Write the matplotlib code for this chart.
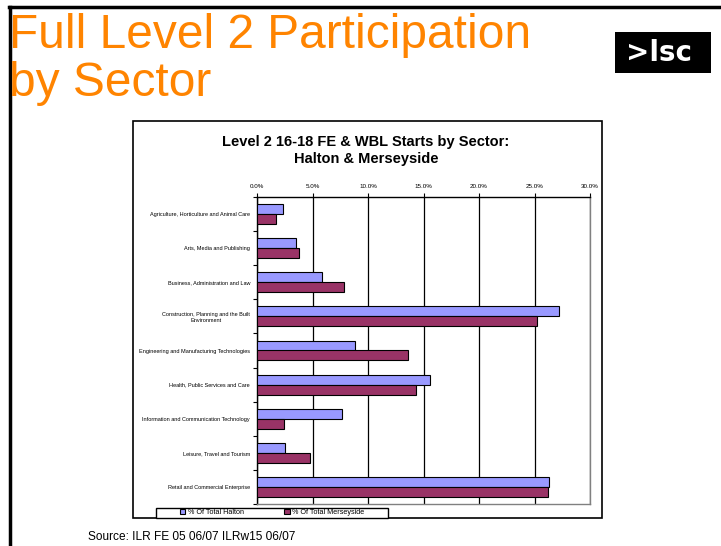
import matplotlib
matplotlib.use("Agg")
import matplotlib.pyplot as plt
from matplotlib.patches import Rectangle
from matplotlib.lines import Line2D
import numpy as np

plt.rcParams['font.family'] = ['Liberation Sans', 'DejaVu Sans']

# data (percent of starts)
sectors = [
    'Agriculture, Horticulture and Animal Care',
    'Arts, Media and Publishing',
    'Business, Administration and Law',
    'Construction, Planning and the Built\nEnvironment',
    'Engineering and Manufacturing Technologies',
    'Health, Public Services and Care',
    'Information and Communication Technology',
    'Leisure, Travel and Tourism',
    'Retail and Commercial Enterprise',
]
halton = [2.35, 3.5, 5.9, 27.2, 8.8, 15.6, 7.7, 2.55, 26.3]
merseyside = [1.75, 3.8, 7.85, 25.2, 13.6, 14.3, 2.4, 4.8, 26.2]
x_ticks = [0, 5, 10, 15, 20, 25, 30]

W, H = 721, 546
fig = plt.figure(figsize=(W / 100, H / 100), dpi=100)


def fx(px):
    return px / W


def fy(py):
    return 1 - py / H


# slide frame (top and left rules)
fig.add_artist(Line2D([fx(9), 1], [fy(7), fy(7)], color='black', lw=2.5))
fig.add_artist(Line2D([fx(10), fx(10)], [fy(7), 0], color='black', lw=2.5))

# slide title
fig.text(fx(9), fy(48), 'Full Level 2 Participation', color='#FF8400',
         fontsize=34.5, va='baseline', ha='left')
fig.text(fx(9), fy(96), 'by Sector', color='#FF8400',
         fontsize=34.5, va='baseline', ha='left')

# logo
fig.add_artist(Rectangle((fx(615), fy(73)), fx(711) - fx(615), fy(32) - fy(73),
                         facecolor='black', edgecolor='none'))
fig.text(fx(659), fy(53), '>lsc', color='white', fontsize=20, fontweight='bold',
         ha='center', va='center', family=['DejaVu Sans'])

# chart frame
fig.add_artist(Rectangle((fx(133), fy(518)), fx(602) - fx(133), fy(121) - fy(518),
                         facecolor='white', edgecolor='black', lw=1.2, zorder=-5))
fig.text(fx(366), fy(142), 'Level 2 16-18 FE & WBL Starts by Sector:', fontsize=10.5,
         fontweight='bold', ha='center', va='center')
fig.text(fx(366), fy(159), 'Halton & Merseyside', fontsize=10.5,
         fontweight='bold', ha='center', va='center')

ax = fig.add_axes([fx(257), fy(504), fx(590) - fx(257), fy(197) - fy(504)])
ax.patch.set_alpha(0)
y = np.arange(len(sectors))
bh = 0.29
b1 = ax.barh(y - bh / 2, halton, height=bh, color='#9999FF', edgecolor='black', lw=0.8,
             label='% Of Total Halton', zorder=3)
b2 = ax.barh(y + bh / 2, merseyside, height=bh, color='#993366', edgecolor='black', lw=0.8,
             label='% Of Total Merseyside', zorder=3)

ax.set_xlim(0, 30)
ax.set_ylim(len(sectors) - 0.5, -0.5)
ax.xaxis.tick_top()
ax.set_xticks(x_ticks)
ax.set_xticklabels(['%.1f%%' % v for v in x_ticks], fontsize=4.5)
ax.tick_params(axis='x', length=3, width=0.8, pad=3)
ax.grid(axis='x', color='black', lw=0.9, zorder=0)

ax.set_yticks(y)
ax.set_yticklabels(sectors, fontsize=4, ha='right', multialignment='center')
ax.tick_params(axis='y', which='major', length=0, pad=5)
ax.set_yticks(np.arange(len(sectors) + 1) - 0.5, minor=True)
ax.tick_params(axis='y', which='minor', length=3, width=0.8)

for side in ['top', 'left']:
    ax.spines[side].set_color('black')
    ax.spines[side].set_linewidth(1)
for side in ['right', 'bottom']:
    ax.spines[side].set_color('#808080')
    ax.spines[side].set_linewidth(1)

# legend box
fig.add_artist(Rectangle((fx(156), fy(517.5)), fx(388) - fx(156), fy(507.5) - fy(517.5),
                         facecolor='white', edgecolor='black', lw=1, zorder=2))
leg = fig.legend(handles=[b1, b2], loc='center', ncol=2,
                 bbox_to_anchor=(fx(272), fy(512.5)),
                 fontsize=5.2, frameon=False, borderpad=0,
                 handlelength=0.8, handleheight=0.8, handletextpad=0.3,
                 columnspacing=5.6, borderaxespad=0)
leg.set_zorder(3)

fig.text(fx(88), fy(537), 'Source: ILR FE 05 06/07 ILRw15 06/07', fontsize=8.6,
         ha='left', va='center')

fig.savefig('out.png', dpi=100)
